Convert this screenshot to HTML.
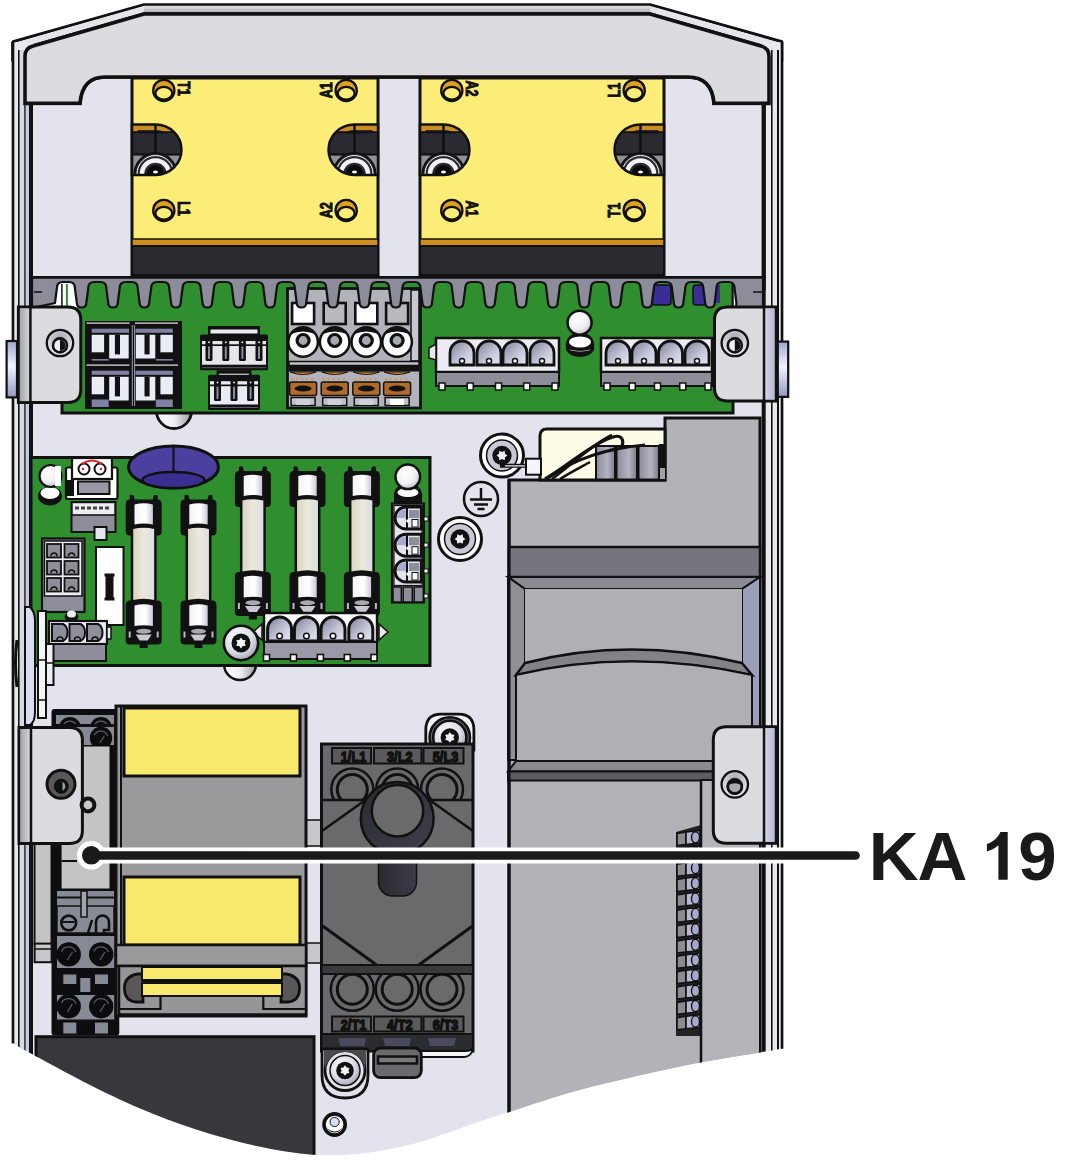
<!DOCTYPE html>
<html><head><meta charset="utf-8"><style>
html,body{margin:0;padding:0;background:#fff;width:1070px;height:1163px;overflow:hidden;font-family:"Liberation Sans",sans-serif;}
svg{display:block;}
</style></head><body>
<svg width="1070" height="1163" viewBox="0 0 1070 1163">
<defs><clipPath id="hc"><path d="M 11.2 1042.6 L 11.2 42 L 144 4 L 650 4 L 783.5 42 L 783.5 1048.5 C 779.5 1049.2, 773.3 1050.1, 759.6 1052.4 C 745.9 1054.7, 723.0 1058.1, 701.3 1062.3 C 679.6 1066.5, 651.4 1072.7, 629.5 1077.8 C 607.6 1082.9, 589.9 1087.1, 569.7 1092.8 C 549.5 1098.5, 523.4 1107.4, 508.4 1112.2 C 493.4 1117.0, 490.1 1118.1, 480.0 1121.5 C 469.9 1124.9, 458.0 1129.3, 448.0 1132.7 C 438.0 1136.1, 429.3 1139.3, 420.0 1142.0 C 410.7 1144.7, 401.3 1146.7, 392.0 1148.6 C 382.7 1150.5, 373.3 1152.2, 364.0 1153.3 C 354.7 1154.4, 346.7 1155.1, 336.0 1155.1 C 325.3 1155.1, 313.9 1155.1, 300.0 1153.4 C 286.1 1151.7, 269.6 1149.0, 252.3 1145.0 C 235.0 1141.0, 214.9 1135.6, 196.2 1129.5 C 177.5 1123.4, 158.9 1116.4, 140.2 1108.5 C 121.5 1100.6, 101.3 1090.6, 84.0 1081.9 C 66.7 1073.2, 48.5 1063.1, 36.4 1056.6 C 24.3 1050.0, 15.4 1044.9, 11.2 1042.6 Z"/></clipPath><linearGradient id="tg" x1="0" y1="0" x2="0" y2="1"><stop offset="0" stop-color="#e8e8ee"/><stop offset="1" stop-color="#a8a8b0"/></linearGradient><radialGradient id="ball" cx="0.4" cy="0.35" r="0.7"><stop offset="0" stop-color="#ffffff"/><stop offset="0.6" stop-color="#f0f0f4"/><stop offset="1" stop-color="#b8b8c4"/></radialGradient><linearGradient id="glass" x1="0" y1="0" x2="1" y2="0"><stop offset="0" stop-color="#d8d4c4"/><stop offset="0.5" stop-color="#ece8da"/><stop offset="1" stop-color="#dcdce4"/></linearGradient><linearGradient id="cap" x1="0" y1="0" x2="1" y2="0"><stop offset="0" stop-color="#f4f4f8"/><stop offset="0.6" stop-color="#ffffff"/><stop offset="1" stop-color="#c8c8d8"/></linearGradient><linearGradient id="stem" x1="0" y1="0" x2="1" y2="0"><stop offset="0" stop-color="#2a2a2e"/><stop offset="1" stop-color="#3c3c4a"/></linearGradient><linearGradient id="brL" x1="0" y1="0" x2="1" y2="0"><stop offset="0" stop-color="#a4a4ac"/><stop offset="1" stop-color="#d8d8de"/></linearGradient><linearGradient id="brR" x1="0" y1="0" x2="1" y2="0"><stop offset="0" stop-color="#d4d4e6"/><stop offset="1" stop-color="#b8b8d8"/></linearGradient><linearGradient id="tab" x1="0" y1="0" x2="0" y2="1"><stop offset="0" stop-color="#a0a8d0"/><stop offset="0.45" stop-color="#f0f4ff"/><stop offset="1" stop-color="#9098c0"/></linearGradient><radialGradient id="hr" cx="0.5" cy="0.3" r="0.6"><stop offset="0" stop-color="#a8a8b0"/><stop offset="1" stop-color="#e4e4ee"/></radialGradient><linearGradient id="knob" x1="0" y1="0" x2="1" y2="1"><stop offset="0" stop-color="#2a2a2e"/><stop offset="1" stop-color="#40404e"/></linearGradient><linearGradient id="dh" x1="0" y1="0" x2="1" y2="1"><stop offset="0" stop-color="#7c7c94"/><stop offset="0.6" stop-color="#c8c8dc"/><stop offset="1" stop-color="#e8e8f0"/></linearGradient><linearGradient id="cyl" x1="0" y1="0" x2="1" y2="0"><stop offset="0" stop-color="#8a8a98"/><stop offset="0.6" stop-color="#b4b4c2"/><stop offset="1" stop-color="#7a7a88"/></linearGradient><linearGradient id="wash" x1="0" y1="0" x2="1" y2="0"><stop offset="0" stop-color="#ffffff"/><stop offset="0.5" stop-color="#f0f0f4"/><stop offset="1" stop-color="#9a9aa4"/></linearGradient><radialGradient id="scr" cx="0.4" cy="0.35" r="0.7"><stop offset="0" stop-color="#ffffff"/><stop offset="0.6" stop-color="#dcdce6"/><stop offset="1" stop-color="#a0a0b4"/></radialGradient></defs>
<g clip-path="url(#hc)">
<rect x="0" y="0" width="800" height="1163" fill="#e3e3ed"/>
<path d="M 12 42 L 144 4 L 650 4 L 783 42 L 783 60 L 12 60 Z" fill="#e4e4ea" stroke="#111" stroke-width="2.8"/>
<rect x="144" y="5" width="506" height="8" fill="url(#tg)"/>
<path d="M 25 103.4 L 25 56 Q 25 48 33 46 L 144 14 L 650 14 L 761 46 Q 769 48 769 56 L 769 103.4 L 714 103.4 Q 712 77 688 77 L 105 77 Q 82 77 80 103.4 Z" fill="#dcdbe0" stroke="#111" stroke-width="3.6"/>
<rect x="12" y="42" width="21" height="1100" fill="#e8e8ee"/>
<rect x="19.6" y="50" width="4.5" height="1090" fill="#d8d8e0"/>
<line x1="18.8" y1="50" x2="18.8" y2="1140" stroke="#111" stroke-width="1.6"/>
<line x1="25" y1="100" x2="25" y2="1140" stroke="#111" stroke-width="1.5"/>
<rect x="25.8" y="100" width="3.2" height="1040" fill="#c6c8e6"/>
<line x1="31" y1="100" x2="31" y2="1140" stroke="#111" stroke-width="4"/>
<rect x="762" y="42" width="22" height="1100" fill="#e8e8ee"/>
<line x1="771.8" y1="50" x2="771.8" y2="1140" stroke="#111" stroke-width="1.6"/>
<line x1="778" y1="50" x2="778" y2="1140" stroke="#111" stroke-width="2"/>
<line x1="763.7" y1="100" x2="763.7" y2="1140" stroke="#111" stroke-width="4"/>
<path d="M 25 103.4 L 25 56 Q 25 48 33 46 L 144 14 L 650 14 L 761 46 Q 769 48 769 56 L 769 103.4 L 714 103.4 Q 712 77 688 77 L 105 77 Q 82 77 80 103.4 Z" fill="#dcdbe0" stroke="#111" stroke-width="3.6"/>
<rect x="33" y="105.3" width="728.5" height="180" fill="#e3e3ed"/>
<line x1="31" y1="105" x2="31" y2="290" stroke="#111" stroke-width="4"/>
<line x1="763.7" y1="105" x2="763.7" y2="290" stroke="#111" stroke-width="4"/>
<rect x="132" y="78" width="246" height="197" fill="#fcec78" stroke="#111" stroke-width="3"/>
<rect x="132" y="239" width="246" height="7" fill="#cc8e1e" stroke="#111" stroke-width="1.5"/>
<rect x="132" y="246" width="246" height="29" fill="#2a2a30" stroke="#111" stroke-width="2"/>
<clipPath id="sl132"><path d="M 132 124.5 L 155.5 124.5 A 26 25.2 0 0 1 155.5 174.9 L 132 174.9 Z"/></clipPath>
<g clip-path="url(#sl132)">
<rect x="132" y="124" width="50" height="52" fill="#2a2a30"/>
<path d="M 132 124.5 L 155.5 124.5 A 26 25.2 0 0 1 155.5 174.9 L 132 174.9 Z" fill="none" stroke="#cc8e1e" stroke-width="11" transform="translate(0,0)"/>
<path d="M 130 132.5 L 183.5 132.5" stroke="#111" stroke-width="2.5"/>
<rect x="132" y="133.5" width="50" height="50" fill="#2a2a30"/>
<line x1="155.5" y1="124" x2="155.5" y2="155" stroke="#111" stroke-width="2.5"/>
<rect x="132" y="154.5" width="50" height="22" fill="#929296" stroke="#111" stroke-width="2.2"/>
<circle cx="155.5" cy="174" r="21" fill="#2a2a30" stroke="#111" stroke-width="2"/>
<circle cx="155.5" cy="174" r="18.5" fill="none" stroke="#ffffff" stroke-width="1"/>
<circle cx="155.5" cy="174" r="13.5" fill="none" stroke="#f4f4f8" stroke-width="4.5"/>
<circle cx="155.5" cy="174" r="9" fill="#0a0a0c"/>
<ellipse cx="155.5" cy="172" rx="2.5" ry="1.5" fill="#fff"/>
</g>
<path d="M 132 124.5 L 155.5 124.5 A 26 25.2 0 0 1 155.5 174.9 L 132 174.9 Z" fill="none" stroke="#111" stroke-width="2.5"/>
<clipPath id="sl328"><path d="M 378 124.5 L 354.5 124.5 A 26 25.2 0 0 0 354.5 174.9 L 378 174.9 Z"/></clipPath>
<g clip-path="url(#sl328)">
<rect x="328.5" y="124" width="50" height="52" fill="#2a2a30"/>
<path d="M 378 124.5 L 354.5 124.5 A 26 25.2 0 0 0 354.5 174.9 L 378 174.9 Z" fill="none" stroke="#cc8e1e" stroke-width="11" transform="translate(0,0)"/>
<path d="M 326.5 132.5 L 380 132.5" stroke="#111" stroke-width="2.5"/>
<rect x="328.5" y="133.5" width="50" height="50" fill="#2a2a30"/>
<line x1="354.5" y1="124" x2="354.5" y2="155" stroke="#111" stroke-width="2.5"/>
<rect x="328.5" y="154.5" width="50" height="22" fill="#929296" stroke="#111" stroke-width="2.2"/>
<circle cx="354.5" cy="174" r="21" fill="#2a2a30" stroke="#111" stroke-width="2"/>
<circle cx="354.5" cy="174" r="18.5" fill="none" stroke="#ffffff" stroke-width="1"/>
<circle cx="354.5" cy="174" r="13.5" fill="none" stroke="#f4f4f8" stroke-width="4.5"/>
<circle cx="354.5" cy="174" r="9" fill="#0a0a0c"/>
<ellipse cx="354.5" cy="172" rx="2.5" ry="1.5" fill="#fff"/>
</g>
<path d="M 378 124.5 L 354.5 124.5 A 26 25.2 0 0 0 354.5 174.9 L 378 174.9 Z" fill="none" stroke="#111" stroke-width="2.5"/>
<rect x="420" y="78" width="244" height="197" fill="#fcec78" stroke="#111" stroke-width="3"/>
<rect x="420" y="239" width="244" height="7" fill="#cc8e1e" stroke="#111" stroke-width="1.5"/>
<rect x="420" y="246" width="244" height="29" fill="#2a2a30" stroke="#111" stroke-width="2"/>
<clipPath id="sl420"><path d="M 420 124.5 L 443.5 124.5 A 26 25.2 0 0 1 443.5 174.9 L 420 174.9 Z"/></clipPath>
<g clip-path="url(#sl420)">
<rect x="420" y="124" width="50" height="52" fill="#2a2a30"/>
<path d="M 420 124.5 L 443.5 124.5 A 26 25.2 0 0 1 443.5 174.9 L 420 174.9 Z" fill="none" stroke="#cc8e1e" stroke-width="11" transform="translate(0,0)"/>
<path d="M 418 132.5 L 471.5 132.5" stroke="#111" stroke-width="2.5"/>
<rect x="420" y="133.5" width="50" height="50" fill="#2a2a30"/>
<line x1="443.5" y1="124" x2="443.5" y2="155" stroke="#111" stroke-width="2.5"/>
<rect x="420" y="154.5" width="50" height="22" fill="#929296" stroke="#111" stroke-width="2.2"/>
<circle cx="443.5" cy="174" r="21" fill="#2a2a30" stroke="#111" stroke-width="2"/>
<circle cx="443.5" cy="174" r="18.5" fill="none" stroke="#ffffff" stroke-width="1"/>
<circle cx="443.5" cy="174" r="13.5" fill="none" stroke="#f4f4f8" stroke-width="4.5"/>
<circle cx="443.5" cy="174" r="9" fill="#0a0a0c"/>
<ellipse cx="443.5" cy="172" rx="2.5" ry="1.5" fill="#fff"/>
</g>
<path d="M 420 124.5 L 443.5 124.5 A 26 25.2 0 0 1 443.5 174.9 L 420 174.9 Z" fill="none" stroke="#111" stroke-width="2.5"/>
<clipPath id="sl614"><path d="M 664 124.5 L 640.5 124.5 A 26 25.2 0 0 0 640.5 174.9 L 664 174.9 Z"/></clipPath>
<g clip-path="url(#sl614)">
<rect x="614.5" y="124" width="50" height="52" fill="#2a2a30"/>
<path d="M 664 124.5 L 640.5 124.5 A 26 25.2 0 0 0 640.5 174.9 L 664 174.9 Z" fill="none" stroke="#cc8e1e" stroke-width="11" transform="translate(0,0)"/>
<path d="M 612.5 132.5 L 666 132.5" stroke="#111" stroke-width="2.5"/>
<rect x="614.5" y="133.5" width="50" height="50" fill="#2a2a30"/>
<line x1="640.5" y1="124" x2="640.5" y2="155" stroke="#111" stroke-width="2.5"/>
<rect x="614.5" y="154.5" width="50" height="22" fill="#929296" stroke="#111" stroke-width="2.2"/>
<circle cx="640.5" cy="174" r="21" fill="#2a2a30" stroke="#111" stroke-width="2"/>
<circle cx="640.5" cy="174" r="18.5" fill="none" stroke="#ffffff" stroke-width="1"/>
<circle cx="640.5" cy="174" r="13.5" fill="none" stroke="#f4f4f8" stroke-width="4.5"/>
<circle cx="640.5" cy="174" r="9" fill="#0a0a0c"/>
<ellipse cx="640.5" cy="172" rx="2.5" ry="1.5" fill="#fff"/>
</g>
<path d="M 664 124.5 L 640.5 124.5 A 26 25.2 0 0 0 640.5 174.9 L 664 174.9 Z" fill="none" stroke="#111" stroke-width="2.5"/>
<circle cx="163.8" cy="90.4" r="10.6" fill="#e0a020" stroke="#111" stroke-width="2.3"/>
<ellipse cx="163.8" cy="93.2" rx="8.4" ry="6.3" fill="#fcec78" stroke="#111" stroke-width="2.2"/>
<circle cx="163.8" cy="210.4" r="10.6" fill="#e0a020" stroke="#111" stroke-width="2.3"/>
<ellipse cx="163.8" cy="213.20000000000002" rx="8.4" ry="6.3" fill="#fcec78" stroke="#111" stroke-width="2.2"/>
<circle cx="346.2" cy="90.4" r="10.6" fill="#e0a020" stroke="#111" stroke-width="2.3"/>
<ellipse cx="346.2" cy="93.2" rx="8.4" ry="6.3" fill="#fcec78" stroke="#111" stroke-width="2.2"/>
<circle cx="346.2" cy="210.4" r="10.6" fill="#e0a020" stroke="#111" stroke-width="2.3"/>
<ellipse cx="346.2" cy="213.20000000000002" rx="8.4" ry="6.3" fill="#fcec78" stroke="#111" stroke-width="2.2"/>
<circle cx="451.8" cy="90.4" r="10.6" fill="#e0a020" stroke="#111" stroke-width="2.3"/>
<ellipse cx="451.8" cy="93.2" rx="8.4" ry="6.3" fill="#fcec78" stroke="#111" stroke-width="2.2"/>
<circle cx="451.8" cy="210.4" r="10.6" fill="#e0a020" stroke="#111" stroke-width="2.3"/>
<ellipse cx="451.8" cy="213.20000000000002" rx="8.4" ry="6.3" fill="#fcec78" stroke="#111" stroke-width="2.2"/>
<circle cx="634.2" cy="90.4" r="10.6" fill="#e0a020" stroke="#111" stroke-width="2.3"/>
<ellipse cx="634.2" cy="93.2" rx="8.4" ry="6.3" fill="#fcec78" stroke="#111" stroke-width="2.2"/>
<circle cx="634.2" cy="210.4" r="10.6" fill="#e0a020" stroke="#111" stroke-width="2.3"/>
<ellipse cx="634.2" cy="213.20000000000002" rx="8.4" ry="6.3" fill="#fcec78" stroke="#111" stroke-width="2.2"/>
<text transform="translate(177.8 88.5) rotate(90) scale(0.74 1)" x="0" y="0" font-family="Liberation Sans" font-weight="bold" font-size="17" fill="#111" stroke="#111" stroke-width="1" text-anchor="middle">T1</text>
<text transform="translate(332.4 90.2) rotate(-90) scale(0.74 1)" x="0" y="0" font-family="Liberation Sans" font-weight="bold" font-size="17" fill="#111" stroke="#111" stroke-width="1" text-anchor="middle">A1</text>
<text transform="translate(177.8 208.5) rotate(90) scale(0.74 1)" x="0" y="0" font-family="Liberation Sans" font-weight="bold" font-size="17" fill="#111" stroke="#111" stroke-width="1" text-anchor="middle">L1</text>
<text transform="translate(332.4 210.2) rotate(-90) scale(0.74 1)" x="0" y="0" font-family="Liberation Sans" font-weight="bold" font-size="17" fill="#111" stroke="#111" stroke-width="1" text-anchor="middle">A2</text>
<text transform="translate(465.8 88.5) rotate(90) scale(0.74 1)" x="0" y="0" font-family="Liberation Sans" font-weight="bold" font-size="17" fill="#111" stroke="#111" stroke-width="1" text-anchor="middle">A2</text>
<text transform="translate(620.4 90.2) rotate(-90) scale(0.74 1)" x="0" y="0" font-family="Liberation Sans" font-weight="bold" font-size="17" fill="#111" stroke="#111" stroke-width="1" text-anchor="middle">L1</text>
<text transform="translate(465.8 208.5) rotate(90) scale(0.74 1)" x="0" y="0" font-family="Liberation Sans" font-weight="bold" font-size="17" fill="#111" stroke="#111" stroke-width="1" text-anchor="middle">A1</text>
<text transform="translate(620.4 210.2) rotate(-90) scale(0.74 1)" x="0" y="0" font-family="Liberation Sans" font-weight="bold" font-size="17" fill="#111" stroke="#111" stroke-width="1" text-anchor="middle">T1</text>
<circle cx="174" cy="411" r="17.5" fill="url(#wash)" stroke="#111" stroke-width="2.8"/>
<rect x="62" y="280" width="671" height="133" fill="#2f8f2f" stroke="#111" stroke-width="3"/>
<rect x="54.9" y="280" width="22" height="29" fill="#ffffff"/>
<line x1="61.9" y1="284" x2="61.9" y2="309" stroke="#111" stroke-width="1.5"/>
<line x1="66.9" y1="284" x2="66.9" y2="309" stroke="#2f8f2f" stroke-width="2"/>
<rect x="733" y="282" width="5" height="27" fill="#ffffff" stroke="#111" stroke-width="1.5"/>
<rect x="652" y="285" width="19" height="20" rx="3" fill="#3a2e96" stroke="#111" stroke-width="1.5"/>
<rect x="693" y="285" width="14" height="20" rx="3" fill="#3a2e96" stroke="#111" stroke-width="1.5"/>
<rect x="716" y="285" width="4" height="18" fill="#3a2e96"/>
<rect x="287.5" y="288.5" width="133" height="119.5" fill="#b2b2ba" stroke="#111" stroke-width="2.8"/>
<rect x="411" y="290" width="8" height="71" fill="#c8c8d0" stroke="#111" stroke-width="1.5"/>
<rect x="292.1" y="303" width="22" height="21" fill="#ffffff" stroke="#111" stroke-width="2.6"/>
<rect x="323.7" y="303" width="22" height="21" fill="#b8b8c0" stroke="#111" stroke-width="2.6"/>
<rect x="355.3" y="303" width="22" height="21" fill="#ffffff" stroke="#111" stroke-width="2.6"/>
<rect x="386.1" y="303" width="22" height="21" fill="#b8b8c0" stroke="#111" stroke-width="2.6"/>
<circle cx="303.1" cy="342" r="14.8" fill="#ffffff" stroke="#111" stroke-width="2.5"/>
<path d="M 291.1 334 A 14 14 0 0 1 315.1 334 Q 303.1 329 291.1 334 Z" fill="#111"/>
<circle cx="303.1" cy="340.5" r="6" fill="#a8a8b0" stroke="#111" stroke-width="3.2"/>
<circle cx="334.7" cy="342" r="14.8" fill="#ffffff" stroke="#111" stroke-width="2.5"/>
<path d="M 322.7 334 A 14 14 0 0 1 346.7 334 Q 334.7 329 322.7 334 Z" fill="#111"/>
<circle cx="334.7" cy="340.5" r="6" fill="#a8a8b0" stroke="#111" stroke-width="3.2"/>
<circle cx="366.3" cy="342" r="14.8" fill="#ffffff" stroke="#111" stroke-width="2.5"/>
<path d="M 354.3 334 A 14 14 0 0 1 378.3 334 Q 366.3 329 354.3 334 Z" fill="#111"/>
<circle cx="366.3" cy="340.5" r="6" fill="#a8a8b0" stroke="#111" stroke-width="3.2"/>
<circle cx="397.1" cy="342" r="14.8" fill="#ffffff" stroke="#111" stroke-width="2.5"/>
<path d="M 385.1 334 A 14 14 0 0 1 409.1 334 Q 397.1 329 385.1 334 Z" fill="#111"/>
<circle cx="397.1" cy="340.5" r="6" fill="#a8a8b0" stroke="#111" stroke-width="3.2"/>
<rect x="289" y="361.5" width="130" height="4" fill="#c0c0c8" stroke="#111" stroke-width="1.5"/>
<rect x="289" y="365.5" width="130" height="6" fill="#111"/>
<path d="M 290.1 372 Q 303.1 377 316.1 372 Z" fill="#e08a30" stroke="#111" stroke-width="1"/>
<line x1="291.1" y1="379" x2="315.1" y2="379" stroke="#e08a30" stroke-width="1.5" stroke-dasharray="2 3"/>
<rect x="289.6" y="382" width="27" height="13.5" rx="2" fill="#b06a2a" stroke="#111" stroke-width="1.5"/>
<ellipse cx="303.1" cy="388.5" rx="8.5" ry="3" fill="#111"/>
<rect x="291.1" y="397.5" width="24" height="8" fill="#c0c0c8" stroke="#111" stroke-width="1.5"/>
<rect x="296.1" y="399" width="14" height="6" fill="#d0d0d8"/>
<path d="M 321.7 372 Q 334.7 377 347.7 372 Z" fill="#e08a30" stroke="#111" stroke-width="1"/>
<line x1="322.7" y1="379" x2="346.7" y2="379" stroke="#e08a30" stroke-width="1.5" stroke-dasharray="2 3"/>
<rect x="321.2" y="382" width="27" height="13.5" rx="2" fill="#b06a2a" stroke="#111" stroke-width="1.5"/>
<ellipse cx="334.7" cy="388.5" rx="8.5" ry="3" fill="#111"/>
<rect x="322.7" y="397.5" width="24" height="8" fill="#c0c0c8" stroke="#111" stroke-width="1.5"/>
<rect x="327.7" y="399" width="14" height="6" fill="#d0d0d8"/>
<path d="M 353.3 372 Q 366.3 377 379.3 372 Z" fill="#e08a30" stroke="#111" stroke-width="1"/>
<line x1="354.3" y1="379" x2="378.3" y2="379" stroke="#e08a30" stroke-width="1.5" stroke-dasharray="2 3"/>
<rect x="352.8" y="382" width="27" height="13.5" rx="2" fill="#b06a2a" stroke="#111" stroke-width="1.5"/>
<ellipse cx="366.3" cy="388.5" rx="8.5" ry="3" fill="#111"/>
<rect x="354.3" y="397.5" width="24" height="8" fill="#c0c0c8" stroke="#111" stroke-width="1.5"/>
<rect x="359.3" y="399" width="14" height="6" fill="#d0d0d8"/>
<path d="M 384.1 372 Q 397.1 377 410.1 372 Z" fill="#e08a30" stroke="#111" stroke-width="1"/>
<line x1="385.1" y1="379" x2="409.1" y2="379" stroke="#e08a30" stroke-width="1.5" stroke-dasharray="2 3"/>
<rect x="383.6" y="382" width="27" height="13.5" rx="2" fill="#b06a2a" stroke="#111" stroke-width="1.5"/>
<ellipse cx="397.1" cy="388.5" rx="8.5" ry="3" fill="#111"/>
<rect x="385.1" y="397.5" width="24" height="8" fill="#c0c0c8" stroke="#111" stroke-width="1.5"/>
<rect x="390.1" y="399" width="14" height="6" fill="#ffffff"/>
<path d="M 32 308 L 55.0 303 L 56.9 288 Q 56.9 282 62.9 282 L 68.9 282 Q 74.9 282 74.9 288 L 76.8 303 L 76.8 302.5 Q 76.8 307.5 81.6 307.5 Q 86.4 307.5 86.4 302.5 L 88.3 288 Q 88.3 282 94.3 282 L 100.3 282 Q 106.3 282 106.3 288 L 108.2 303 L 108.2 302.5 Q 108.2 307.5 113.0 307.5 Q 117.8 307.5 117.8 302.5 L 119.7 288 Q 119.7 282 125.7 282 L 131.7 282 Q 137.7 282 137.7 288 L 139.6 303 L 139.6 302.5 Q 139.6 307.5 144.4 307.5 Q 149.2 307.5 149.2 302.5 L 151.2 288 Q 151.2 282 157.2 282 L 163.2 282 Q 169.2 282 169.2 288 L 171.1 303 L 171.1 302.5 Q 171.1 307.5 175.9 307.5 Q 180.7 307.5 180.7 302.5 L 182.6 288 Q 182.6 282 188.6 282 L 194.6 282 Q 200.6 282 200.6 288 L 202.5 303 L 202.5 302.5 Q 202.5 307.5 207.3 307.5 Q 212.1 307.5 212.1 302.5 L 214.0 288 Q 214.0 282 220.0 282 L 226.0 282 Q 232.0 282 232.0 288 L 233.9 303 L 233.9 302.5 Q 233.9 307.5 238.7 307.5 Q 243.5 307.5 243.5 302.5 L 245.4 288 Q 245.4 282 251.4 282 L 257.4 282 Q 263.4 282 263.4 288 L 265.3 303 L 265.3 302.5 Q 265.3 307.5 270.1 307.5 Q 274.9 307.5 274.9 302.5 L 276.8 288 Q 276.8 282 282.8 282 L 288.8 282 Q 294.8 282 294.8 288 L 296.7 303 L 296.7 302.5 Q 296.7 307.5 301.5 307.5 Q 306.3 307.5 306.3 302.5 L 308.2 288 Q 308.2 282 314.2 282 L 320.2 282 Q 326.2 282 326.2 288 L 328.1 303 L 328.2 302.5 Q 328.2 307.5 333.0 307.5 Q 337.8 307.5 337.8 302.5 L 339.7 288 Q 339.7 282 345.7 282 L 351.7 282 Q 357.7 282 357.7 288 L 359.6 303 L 359.6 302.5 Q 359.6 307.5 364.4 307.5 Q 369.2 307.5 369.2 302.5 L 371.1 288 Q 371.1 282 377.1 282 L 383.1 282 Q 389.1 282 389.1 288 L 391.0 303 L 391.0 302.5 Q 391.0 307.5 395.8 307.5 Q 400.6 307.5 400.6 302.5 L 402.5 288 Q 402.5 282 408.5 282 L 414.5 282 Q 420.5 282 420.5 288 L 422.4 303 L 422.4 302.5 Q 422.4 307.5 427.2 307.5 Q 432.0 307.5 432.0 302.5 L 433.9 288 Q 433.9 282 439.9 282 L 445.9 282 Q 451.9 282 451.9 288 L 453.8 303 L 453.8 302.5 Q 453.8 307.5 458.6 307.5 Q 463.4 307.5 463.4 302.5 L 465.3 288 Q 465.3 282 471.3 282 L 477.3 282 Q 483.3 282 483.3 288 L 485.2 303 L 485.3 302.5 Q 485.3 307.5 490.1 307.5 Q 494.9 307.5 494.9 302.5 L 496.8 288 Q 496.8 282 502.8 282 L 508.8 282 Q 514.8 282 514.8 288 L 516.7 303 L 516.7 302.5 Q 516.7 307.5 521.5 307.5 Q 526.3 307.5 526.3 302.5 L 528.2 288 Q 528.2 282 534.2 282 L 540.2 282 Q 546.2 282 546.2 288 L 548.1 303 L 548.1 302.5 Q 548.1 307.5 552.9 307.5 Q 557.7 307.5 557.7 302.5 L 559.6 288 Q 559.6 282 565.6 282 L 571.6 282 Q 577.6 282 577.6 288 L 579.5 303 L 579.5 302.5 Q 579.5 307.5 584.3 307.5 Q 589.1 307.5 589.1 302.5 L 591.0 288 Q 591.0 282 597.0 282 L 603.0 282 Q 609.0 282 609.0 288 L 610.9 303 L 610.9 302.5 Q 610.9 307.5 615.7 307.5 Q 620.5 307.5 620.5 302.5 L 622.5 288 Q 622.5 282 628.5 282 L 634.5 282 Q 640.5 282 640.5 288 L 642.4 303 L 642.4 302.5 Q 642.4 307.5 647.2 307.5 Q 652.0 307.5 652.0 302.5 L 653.9 288 Q 653.9 282 659.9 282 L 665.9 282 Q 671.9 282 671.9 288 L 673.8 303 L 673.8 302.5 Q 673.8 307.5 678.6 307.5 Q 683.4 307.5 683.4 302.5 L 685.3 288 Q 685.3 282 691.3 282 L 697.3 282 Q 703.3 282 703.3 288 L 705.2 303 L 705.2 302.5 Q 705.2 307.5 710.0 307.5 Q 714.8 307.5 714.8 302.5 L 716.5 288 Q 716.5 282 722.5 282 L 728.5 282 Q 734.5 282 734.5 288 L 736.4 303 L 736 308 L 763 308 L 763 277 L 32 277 Z" fill="#8d8c9a" stroke="#111" stroke-width="2.2" stroke-linejoin="round"/>
<line x1="32" y1="277.5" x2="763" y2="277.5" stroke="#111" stroke-width="2.5"/>
<line x1="34" y1="292" x2="42" y2="292" stroke="#111" stroke-width="1.5"/>
<line x1="753" y1="292" x2="762" y2="292" stroke="#111" stroke-width="1.5"/>
<path d="M 18.4 307 L 67.8 307 Q 80.8 307 80.8 320 L 80.8 389.6 Q 80.8 402.6 67.8 402.6 L 18.4 402.6 Z" fill="#dcdbe0" stroke="#111" stroke-width="3"/>
<rect x="19.9" y="308.5" width="10" height="92.60000000000002" fill="url(#brL)"/>
<line x1="30.4" y1="307" x2="30.4" y2="402.6" stroke="#111" stroke-width="2.5"/>
<circle cx="60" cy="343" r="13.2" fill="url(#hr)" stroke="#111" stroke-width="2.3"/>
<circle cx="60" cy="345.4" r="7" fill="#f0f0f4" stroke="#111" stroke-width="2.6"/>
<path d="M 60 339.8 A 5.6 5.6 0 0 1 60 351 Z" fill="#111"/>
<path d="M 776 307 L 727.5 307 Q 714.5 307 714.5 320 L 714.5 388 Q 714.5 401 727.5 401 L 776 401 Z" fill="#dcdbe0" stroke="#111" stroke-width="3"/>
<rect x="764.5" y="308.5" width="10" height="91" fill="url(#brR)"/>
<line x1="764" y1="307" x2="764" y2="401" stroke="#111" stroke-width="2.5"/>
<circle cx="734.8" cy="343" r="13.2" fill="url(#hr)" stroke="#111" stroke-width="2.3"/>
<circle cx="734.8" cy="345.4" r="7" fill="#f0f0f4" stroke="#111" stroke-width="2.6"/>
<path d="M 734.8 339.8 A 5.6 5.6 0 0 1 734.8 351 Z" fill="#111"/>
<rect x="85" y="321" width="97" height="88" fill="#111"/>
<rect x="91.7" y="328.7" width="37.3" height="4.1" fill="#7e80a4"/>
<rect x="91.7" y="334.8" width="12.4" height="17.5" fill="#eaecf6"/>
<rect x="109.2" y="334.8" width="19.5" height="23.7" fill="#eaecf6"/>
<rect x="114.9" y="334.8" width="5.1" height="19.6" fill="#111"/>
<rect x="91.7" y="359.0" width="17.0" height="1.6" fill="#7e80a4"/>
<rect x="86.5" y="322.5" width="43.0" height="1.2" fill="#e8e8f0"/>
<rect x="135.5" y="328.7" width="37.3" height="4.1" fill="#7e80a4"/>
<rect x="160.4" y="334.8" width="12.4" height="17.5" fill="#eaecf6"/>
<rect x="135.8" y="334.8" width="19.5" height="23.7" fill="#eaecf6"/>
<rect x="144.5" y="334.8" width="5.1" height="19.6" fill="#111"/>
<rect x="155.8" y="359.0" width="17.0" height="1.6" fill="#7e80a4"/>
<rect x="135.0" y="322.5" width="43.0" height="1.2" fill="#e8e8f0"/>
<rect x="91.7" y="370.7" width="37.3" height="4.1" fill="#7e80a4"/>
<rect x="91.7" y="376.8" width="12.4" height="17.5" fill="#eaecf6"/>
<rect x="109.2" y="376.8" width="19.5" height="23.7" fill="#eaecf6"/>
<rect x="114.9" y="376.8" width="5.1" height="19.6" fill="#111"/>
<rect x="91.7" y="399.5" width="17.0" height="7.5" fill="#7e80a4"/>
<rect x="86.5" y="364.5" width="43.0" height="1.2" fill="#e8e8f0"/>
<rect x="135.5" y="370.7" width="37.3" height="4.1" fill="#7e80a4"/>
<rect x="160.4" y="376.8" width="12.4" height="17.5" fill="#eaecf6"/>
<rect x="135.8" y="376.8" width="19.5" height="23.7" fill="#eaecf6"/>
<rect x="144.5" y="376.8" width="5.1" height="19.6" fill="#111"/>
<rect x="155.8" y="399.5" width="17.0" height="7.5" fill="#7e80a4"/>
<rect x="135.0" y="364.5" width="43.0" height="1.2" fill="#e8e8f0"/>
<line x1="132.3" y1="325" x2="132.3" y2="406" stroke="#9a9ab0" stroke-width="1"/>
<line x1="134.6" y1="325" x2="134.6" y2="406" stroke="#9a9ab0" stroke-width="1"/>
<rect x="208" y="326" width="52" height="9.5" fill="#111"/>
<rect x="210.5" y="329.5" width="47" height="4" fill="#ececf0"/>
<rect x="200" y="334.5" width="68" height="35.69999999999999" rx="1.5" fill="#111"/>
<rect x="202" y="341.0" width="64" height="3.3" fill="#e6e6ea"/>
<rect x="202" y="346.0" width="64" height="18.69999999999999" fill="#e6e6ea"/>
<line x1="202" y1="367.7" x2="266" y2="367.7" stroke="#5a5a68" stroke-width="1"/>
<rect x="205.5" y="339.5" width="7" height="21.4" rx="1.5" fill="#111"/>
<rect x="208" y="346.5" width="2" height="12.4" fill="#8a8aa0"/>
<rect x="208.2" y="341.5" width="1.6" height="1.6" fill="#fff"/>
<rect x="222.3" y="339.5" width="7" height="21.4" rx="1.5" fill="#111"/>
<rect x="224.8" y="346.5" width="2" height="12.4" fill="#8a8aa0"/>
<rect x="225.0" y="341.5" width="1.6" height="1.6" fill="#fff"/>
<rect x="238.9" y="339.5" width="7" height="21.4" rx="1.5" fill="#111"/>
<rect x="241.4" y="346.5" width="2" height="12.4" fill="#8a8aa0"/>
<rect x="241.6" y="341.5" width="1.6" height="1.6" fill="#fff"/>
<rect x="255.5" y="339.5" width="7" height="21.4" rx="1.5" fill="#111"/>
<rect x="258" y="346.5" width="2" height="12.4" fill="#8a8aa0"/>
<rect x="258.2" y="341.5" width="1.6" height="1.6" fill="#fff"/>
<rect x="216.6" y="370.2" width="34.80000000000001" height="5.5" fill="#111"/>
<rect x="219.1" y="373.7" width="29.80000000000001" height="4" fill="#ececf0"/>
<rect x="208" y="374.7" width="52" height="35.30000000000001" rx="1.5" fill="#111"/>
<rect x="210" y="381.2" width="48" height="3.3" fill="#e8eaf4"/>
<rect x="210" y="386.2" width="48" height="18.30000000000001" fill="#e8eaf4"/>
<line x1="210" y1="407.5" x2="258" y2="407.5" stroke="#5a5a68" stroke-width="1"/>
<rect x="214.0" y="379.7" width="7" height="21.2" rx="1.5" fill="#111"/>
<rect x="216.5" y="386.7" width="2" height="12.2" fill="#8a8aa0"/>
<rect x="216.7" y="381.7" width="1.6" height="1.6" fill="#fff"/>
<rect x="230.5" y="379.7" width="7" height="21.2" rx="1.5" fill="#111"/>
<rect x="233" y="386.7" width="2" height="12.2" fill="#8a8aa0"/>
<rect x="233.2" y="381.7" width="1.6" height="1.6" fill="#fff"/>
<rect x="247.1" y="379.7" width="7" height="21.2" rx="1.5" fill="#111"/>
<rect x="249.6" y="386.7" width="2" height="12.2" fill="#8a8aa0"/>
<rect x="249.79999999999998" y="381.7" width="1.6" height="1.6" fill="#fff"/>
<rect x="436" y="338" width="123" height="34" fill="#ececf2" stroke="#111" stroke-width="2.5"/>
<rect x="436" y="372" width="123" height="14" fill="#8e8e9a" stroke="#111" stroke-width="2"/>
<path d="M 450 365 L 450 353 A 12 12 0 0 1 474 353 L 474 365 Z" fill="url(#dh)" stroke="#111" stroke-width="2.8"/>
<circle cx="462" cy="361" r="2.5" fill="#fff" stroke="#111" stroke-width="1.5"/>
<path d="M 477 365 L 477 353 A 12 12 0 0 1 501 353 L 501 365 Z" fill="url(#dh)" stroke="#111" stroke-width="2.8"/>
<circle cx="489" cy="361" r="2.5" fill="#fff" stroke="#111" stroke-width="1.5"/>
<path d="M 503 365 L 503 353 A 12 12 0 0 1 527 353 L 527 365 Z" fill="url(#dh)" stroke="#111" stroke-width="2.8"/>
<circle cx="515" cy="361" r="2.5" fill="#fff" stroke="#111" stroke-width="1.5"/>
<path d="M 530 365 L 530 353 A 12 12 0 0 1 554 353 L 554 365 Z" fill="url(#dh)" stroke="#111" stroke-width="2.8"/>
<circle cx="542" cy="361" r="2.5" fill="#fff" stroke="#111" stroke-width="1.5"/>
<rect x="439.0" y="383" width="6" height="7" fill="#fff" stroke="#111" stroke-width="1.5"/>
<rect x="467.25" y="383" width="6" height="7" fill="#fff" stroke="#111" stroke-width="1.5"/>
<rect x="495.5" y="383" width="6" height="7" fill="#fff" stroke="#111" stroke-width="1.5"/>
<rect x="523.75" y="383" width="6" height="7" fill="#fff" stroke="#111" stroke-width="1.5"/>
<rect x="552.0" y="383" width="6" height="7" fill="#fff" stroke="#111" stroke-width="1.5"/>
<rect x="601" y="338" width="111" height="34" fill="#ececf2" stroke="#111" stroke-width="2.5"/>
<rect x="601" y="372" width="111" height="14" fill="#8e8e9a" stroke="#111" stroke-width="2"/>
<path d="M 606 365 L 606 353 A 12 12 0 0 1 630 353 L 630 365 Z" fill="url(#dh)" stroke="#111" stroke-width="2.8"/>
<circle cx="618" cy="361" r="2.5" fill="#fff" stroke="#111" stroke-width="1.5"/>
<path d="M 632 365 L 632 353 A 12 12 0 0 1 656 353 L 656 365 Z" fill="url(#dh)" stroke="#111" stroke-width="2.8"/>
<circle cx="644" cy="361" r="2.5" fill="#fff" stroke="#111" stroke-width="1.5"/>
<path d="M 658.5 365 L 658.5 353 A 12 12 0 0 1 682.5 353 L 682.5 365 Z" fill="url(#dh)" stroke="#111" stroke-width="2.8"/>
<circle cx="670.5" cy="361" r="2.5" fill="#fff" stroke="#111" stroke-width="1.5"/>
<path d="M 685 365 L 685 353 A 12 12 0 0 1 709 353 L 709 365 Z" fill="url(#dh)" stroke="#111" stroke-width="2.8"/>
<circle cx="697" cy="361" r="2.5" fill="#fff" stroke="#111" stroke-width="1.5"/>
<rect x="604.0" y="383" width="6" height="7" fill="#fff" stroke="#111" stroke-width="1.5"/>
<rect x="629.25" y="383" width="6" height="7" fill="#fff" stroke="#111" stroke-width="1.5"/>
<rect x="654.5" y="383" width="6" height="7" fill="#fff" stroke="#111" stroke-width="1.5"/>
<rect x="679.75" y="383" width="6" height="7" fill="#fff" stroke="#111" stroke-width="1.5"/>
<rect x="705.0" y="383" width="6" height="7" fill="#fff" stroke="#111" stroke-width="1.5"/>
<path d="M 429 348 L 436 344 L 436 360 L 429 358 Z" fill="#e8e8ee" stroke="#111" stroke-width="1.5"/>
<path d="M 566 350 Q 564 333 580 333 Q 596 333 594 350 Q 590 357 580 357 Q 570 357 566 350 Z" fill="#111"/>
<ellipse cx="580" cy="342" rx="11" ry="5.5" fill="#ffffff"/>
<path d="M 570 350 Q 580 353 590 350" fill="none" stroke="#8a8a90" stroke-width="1"/>
<circle cx="579.6" cy="322.7" r="12" fill="url(#ball)" stroke="#111" stroke-width="2.5"/>
<circle cx="502" cy="455.5" r="21.5" fill="#ffffff" stroke="#111" stroke-width="3"/>
<circle cx="502" cy="455.5" r="15.479999999999999" fill="#c9c9d6" stroke="#111" stroke-width="1.5"/>
<circle cx="502" cy="455.5" r="9.675" fill="#111"/>
<polygon points="507.4,455.5 505.0,457.2 504.7,460.2 502.0,458.9 499.3,460.2 499.0,457.2 496.6,455.5 499.0,453.8 499.3,450.8 502.0,452.1 504.7,450.8 505.0,453.8" fill="#f0f0f4"/>
<circle cx="460" cy="539" r="21.5" fill="#ffffff" stroke="#111" stroke-width="3"/>
<circle cx="460" cy="539" r="15.479999999999999" fill="#c9c9d6" stroke="#111" stroke-width="1.5"/>
<circle cx="460" cy="539" r="9.675" fill="#111"/>
<polygon points="465.4,539.0 463.0,540.7 462.7,543.7 460.0,542.4 457.3,543.7 457.0,540.7 454.6,539.0 457.0,537.3 457.3,534.3 460.0,535.6 462.7,534.3 463.0,537.3" fill="#f0f0f4"/>
<circle cx="481" cy="499" r="17" fill="none" stroke="#111" stroke-width="2.5"/>
<line x1="481" y1="488" x2="481" y2="499" stroke="#111" stroke-width="2.5"/>
<line x1="470" y1="499.5" x2="492" y2="499.5" stroke="#111" stroke-width="2.5"/>
<line x1="474" y1="504.5" x2="488" y2="504.5" stroke="#111" stroke-width="2.5"/>
<line x1="477.5" y1="509" x2="484.5" y2="509" stroke="#111" stroke-width="2.5"/>
<path d="M 509 1163 L 509 480 L 665 480 L 665 418 L 760 418 L 760 1163 Z" fill="#b3b2b8" stroke="#111" stroke-width="3"/>
<path d="M 540 480 L 540 436 Q 540 429 547 429 L 665 429 L 665 480 Z" fill="#fefbe6" stroke="#111" stroke-width="3"/>
<rect x="659" y="444" width="7" height="36" fill="#111"/>
<rect x="659" y="468" width="6" height="11" fill="#a0a0a8"/>
<rect x="596" y="446" width="19" height="33.5" fill="url(#cyl)" stroke="#111" stroke-width="2"/>
<rect x="616.5" y="446" width="20.5" height="33.5" fill="url(#cyl)" stroke="#111" stroke-width="2"/>
<rect x="638.5" y="446" width="20.5" height="33.5" fill="url(#cyl)" stroke="#111" stroke-width="2"/>
<path d="M 545 479 C 565 468, 590 445, 610 438 C 622 433, 624 440, 622 446" fill="none" stroke="#111" stroke-width="3.2"/>
<path d="M 552 479 C 575 462, 598 440, 612 435" fill="none" stroke="#111" stroke-width="2.5"/>
<path d="M 548 478 C 575 458, 610 448, 645 445" fill="none" stroke="#111" stroke-width="3.2"/>
<path d="M 560 479 C 575 470, 585 465, 590 462" fill="none" stroke="#111" stroke-width="2.5"/>
<line x1="500" y1="465.8" x2="542" y2="465.8" stroke="#111" stroke-width="4"/>
<line x1="505" y1="465.8" x2="540" y2="465.8" stroke="#f0f0f4" stroke-width="1.2"/>
<rect x="526" y="458.7" width="15" height="16" fill="#f4f4fa" stroke="#111" stroke-width="2"/>
<rect x="509" y="547" width="251" height="30" fill="#76757d" stroke="#111" stroke-width="2.5"/>
<path d="M 508 577 L 760 577 L 742 589 L 525 589 Z" fill="#8c8b93" stroke="#111" stroke-width="2"/>
<path d="M 508 577 L 525 589 L 525 760 L 508 760 Z" fill="#909096" stroke="#111" stroke-width="2"/>
<path d="M 760 577 L 742 589 L 742 760 L 760 760 Z" fill="#9b9db9" stroke="#111" stroke-width="2"/>
<rect x="525" y="589" width="217" height="172" fill="#b0afb5"/>
<path d="M 525 663 Q 630 636 742 663 L 752 675 Q 630 648 516 675 Z" fill="#838289" stroke="#111" stroke-width="2.5"/>
<path d="M 516 675 Q 630 648 752 675 L 752 761 L 516 761 Z" fill="#b0afb5" stroke="#111" stroke-width="2"/>
<path d="M 516 761 L 752 761 L 752 771.5 L 508 771.5 Z" fill="#8a8a90" stroke="#111" stroke-width="2"/>
<rect x="508" y="771.5" width="250" height="9" fill="#5c5c66" stroke="#111" stroke-width="2"/>
<line x1="509" y1="480" x2="509" y2="1163" stroke="#111" stroke-width="3"/>
<rect x="701" y="780" width="59" height="383" fill="#b5b4ba" stroke="#111" stroke-width="2"/>
<path d="M 676 832 L 701 825 L 701 1036 L 676 1036 Z" fill="#222" />
<path d="M 677 833.5 L 686 832.0 L 686 844.5 L 677 845.5 Z" fill="#8c8c90" stroke="#111" stroke-width="1.6"/>
<path d="M 686 832.0 L 700 830.5 L 700 843.0 L 686 844.5 Z" fill="#b4b6d4" stroke="#111" stroke-width="1.6"/>
<ellipse cx="695.5" cy="837.3" rx="4" ry="5.6" fill="#a6a8cc" stroke="#111" stroke-width="1.4"/>
<path d="M 677 848.9 L 686 847.4 L 686 859.9 L 677 860.9 Z" fill="#8c8c90" stroke="#111" stroke-width="1.6"/>
<path d="M 686 847.4 L 700 845.9 L 700 858.4 L 686 859.9 Z" fill="#b4b6d4" stroke="#111" stroke-width="1.6"/>
<ellipse cx="695.5" cy="852.6" rx="4" ry="5.6" fill="#a6a8cc" stroke="#111" stroke-width="1.4"/>
<path d="M 677 864.2 L 686 862.7 L 686 875.2 L 677 876.2 Z" fill="#8c8c90" stroke="#111" stroke-width="1.6"/>
<path d="M 686 862.7 L 700 861.2 L 700 873.7 L 686 875.2 Z" fill="#b4b6d4" stroke="#111" stroke-width="1.6"/>
<ellipse cx="695.5" cy="868.0" rx="4" ry="5.6" fill="#a6a8cc" stroke="#111" stroke-width="1.4"/>
<path d="M 677 879.5 L 686 878.0 L 686 890.5 L 677 891.5 Z" fill="#8c8c90" stroke="#111" stroke-width="1.6"/>
<path d="M 686 878.0 L 700 876.5 L 700 889.0 L 686 890.5 Z" fill="#b4b6d4" stroke="#111" stroke-width="1.6"/>
<ellipse cx="695.5" cy="883.3" rx="4" ry="5.6" fill="#a6a8cc" stroke="#111" stroke-width="1.4"/>
<path d="M 677 894.9 L 686 893.4 L 686 905.9 L 677 906.9 Z" fill="#8c8c90" stroke="#111" stroke-width="1.6"/>
<path d="M 686 893.4 L 700 891.9 L 700 904.4 L 686 905.9 Z" fill="#b4b6d4" stroke="#111" stroke-width="1.6"/>
<ellipse cx="695.5" cy="898.7" rx="4" ry="5.6" fill="#a6a8cc" stroke="#111" stroke-width="1.4"/>
<path d="M 677 910.2 L 686 908.8 L 686 921.2 L 677 922.2 Z" fill="#8c8c90" stroke="#111" stroke-width="1.6"/>
<path d="M 686 908.8 L 700 907.2 L 700 919.8 L 686 921.2 Z" fill="#b4b6d4" stroke="#111" stroke-width="1.6"/>
<ellipse cx="695.5" cy="914.0" rx="4" ry="5.6" fill="#a6a8cc" stroke="#111" stroke-width="1.4"/>
<path d="M 677 925.6 L 686 924.1 L 686 936.6 L 677 937.6 Z" fill="#8c8c90" stroke="#111" stroke-width="1.6"/>
<path d="M 686 924.1 L 700 922.6 L 700 935.1 L 686 936.6 Z" fill="#b4b6d4" stroke="#111" stroke-width="1.6"/>
<ellipse cx="695.5" cy="929.4" rx="4" ry="5.6" fill="#a6a8cc" stroke="#111" stroke-width="1.4"/>
<path d="M 677 941.0 L 686 939.5 L 686 952.0 L 677 953.0 Z" fill="#8c8c90" stroke="#111" stroke-width="1.6"/>
<path d="M 686 939.5 L 700 938.0 L 700 950.5 L 686 952.0 Z" fill="#b4b6d4" stroke="#111" stroke-width="1.6"/>
<ellipse cx="695.5" cy="944.8" rx="4" ry="5.6" fill="#a6a8cc" stroke="#111" stroke-width="1.4"/>
<path d="M 677 956.3 L 686 954.8 L 686 967.3 L 677 968.3 Z" fill="#8c8c90" stroke="#111" stroke-width="1.6"/>
<path d="M 686 954.8 L 700 953.3 L 700 965.8 L 686 967.3 Z" fill="#b4b6d4" stroke="#111" stroke-width="1.6"/>
<ellipse cx="695.5" cy="960.1" rx="4" ry="5.6" fill="#a6a8cc" stroke="#111" stroke-width="1.4"/>
<path d="M 677 971.6 L 686 970.1 L 686 982.6 L 677 983.6 Z" fill="#8c8c90" stroke="#111" stroke-width="1.6"/>
<path d="M 686 970.1 L 700 968.6 L 700 981.1 L 686 982.6 Z" fill="#b4b6d4" stroke="#111" stroke-width="1.6"/>
<ellipse cx="695.5" cy="975.4" rx="4" ry="5.6" fill="#a6a8cc" stroke="#111" stroke-width="1.4"/>
<path d="M 677 987.0 L 686 985.5 L 686 998.0 L 677 999.0 Z" fill="#8c8c90" stroke="#111" stroke-width="1.6"/>
<path d="M 686 985.5 L 700 984.0 L 700 996.5 L 686 998.0 Z" fill="#b4b6d4" stroke="#111" stroke-width="1.6"/>
<ellipse cx="695.5" cy="990.8" rx="4" ry="5.6" fill="#a6a8cc" stroke="#111" stroke-width="1.4"/>
<path d="M 677 1002.4 L 686 1000.9 L 686 1013.4 L 677 1014.4 Z" fill="#8c8c90" stroke="#111" stroke-width="1.6"/>
<path d="M 686 1000.9 L 700 999.4 L 700 1011.9 L 686 1013.4 Z" fill="#b4b6d4" stroke="#111" stroke-width="1.6"/>
<ellipse cx="695.5" cy="1006.1" rx="4" ry="5.6" fill="#a6a8cc" stroke="#111" stroke-width="1.4"/>
<path d="M 677 1017.7 L 686 1016.2 L 686 1028.7 L 677 1029.7 Z" fill="#8c8c90" stroke="#111" stroke-width="1.6"/>
<path d="M 686 1016.2 L 700 1014.7 L 700 1027.2 L 686 1028.7 Z" fill="#b4b6d4" stroke="#111" stroke-width="1.6"/>
<ellipse cx="695.5" cy="1021.5" rx="4" ry="5.6" fill="#a6a8cc" stroke="#111" stroke-width="1.4"/>
<line x1="701" y1="780" x2="701" y2="1070" stroke="#111" stroke-width="2.5"/>
<path d="M 776 726.7 L 726.3 726.7 Q 713.3 726.7 713.3 739.7 L 713.3 830.3 Q 713.3 843.3 726.3 843.3 L 776 843.3 Z" fill="#dcdbe0" stroke="#111" stroke-width="3"/>
<rect x="764.5" y="728.2" width="10" height="113.59999999999991" fill="url(#brR)"/>
<line x1="764" y1="726.7" x2="764" y2="843.3" stroke="#111" stroke-width="2.5"/>
<circle cx="734.8" cy="784.4" r="13.2" fill="url(#hr)" stroke="#111" stroke-width="2.3"/>
<circle cx="734.8" cy="786.8" r="7" fill="#f0f0f4" stroke="#111" stroke-width="2.6"/>
<path d="M 734.8 781.1999999999999 A 5.6 5.6 0 0 1 734.8 792.4 Z" fill="#111"/>
<circle cx="734.8" cy="786.4" r="7" fill="#a8a8ae" stroke="#111" stroke-width="2.6"/>
<path d="M 728.5 785 A 6.5 6.5 0 0 1 741 785 Q 734.8 781.5 728.5 785 Z" fill="#111"/>
<circle cx="240" cy="664" r="16" fill="url(#wash)" stroke="#111" stroke-width="2.5"/>
<rect x="31" y="457.5" width="399" height="208" fill="#2f8f2f" stroke="#111" stroke-width="3"/>
<ellipse cx="173.5" cy="467" rx="45" ry="21" fill="#4b3fa0" stroke="#111" stroke-width="3"/>
<ellipse cx="173.5" cy="480" rx="31" ry="8" fill="#3a2f90" stroke="#111" stroke-width="2.5"/>
<line x1="173.5" y1="446" x2="173.5" y2="472" stroke="#111" stroke-width="2"/>
<path d="M 125.69999999999999 504.5 Q 125.69999999999999 499.5 129.7 499.5 L 129.7 495.5 Q 131.7 494.0 133.7 495.5 L 134.7 499.5 L 152.7 499.5 L 153.7 495.5 Q 155.7 494.0 157.7 495.5 L 157.7 499.5 Q 161.7 499.5 161.7 504.5 L 161.7 531.5 Q 161.7 535.5 157.7 535.5 L 129.7 535.5 Q 125.69999999999999 535.5 125.69999999999999 531.5 Z" fill="#111"/>
<path d="M 125.69999999999999 605.5 Q 125.69999999999999 600.5 129.7 600.5 L 157.7 600.5 Q 161.7 600.5 161.7 605.5 L 161.7 640.5 Q 161.7 644.5 157.7 644.5 L 147.7 644.5 L 147.7 648.0 L 139.7 648.0 L 139.7 644.5 L 129.7 644.5 Q 125.69999999999999 644.5 125.69999999999999 640.5 Z" fill="#111"/>
<path d="M 132.0 528.0 Q 143.7 525.0 155.39999999999998 528.0 L 155.39999999999998 601.5 Q 143.7 598.5 132.0 601.5 Z" fill="url(#glass)" stroke="#111" stroke-width="2.5"/>
<path d="M 134.5 504.5 Q 143.7 502.0 152.89999999999998 504.5 L 152.89999999999998 524.5 Q 143.7 522.5 134.5 524.5 Z" fill="url(#cap)"/>
<path d="M 134.5 605.5 Q 143.7 603.0 152.89999999999998 605.5 L 152.89999999999998 626.1 Q 143.7 624.5 134.5 626.1 Z" fill="url(#cap)"/>
<ellipse cx="143.7" cy="631.2" rx="7.5" ry="2.5" fill="#a8a8b4"/>
<path d="M 135.7 634.5 L 151.7 634.5 L 147.7 640.5 L 139.7 640.5 Z" fill="#c8c8d0"/>
<rect x="128.7" y="631.5" width="2" height="6" fill="#b8b8d0"/><rect x="156.7" y="631.5" width="2" height="6" fill="#b8b8d0"/>
<path d="M 180.5 504.5 Q 180.5 499.5 184.5 499.5 L 184.5 495.5 Q 186.5 494.0 188.5 495.5 L 189.5 499.5 L 207.5 499.5 L 208.5 495.5 Q 210.5 494.0 212.5 495.5 L 212.5 499.5 Q 216.5 499.5 216.5 504.5 L 216.5 531.5 Q 216.5 535.5 212.5 535.5 L 184.5 535.5 Q 180.5 535.5 180.5 531.5 Z" fill="#111"/>
<path d="M 180.5 605.5 Q 180.5 600.5 184.5 600.5 L 212.5 600.5 Q 216.5 600.5 216.5 605.5 L 216.5 640.5 Q 216.5 644.5 212.5 644.5 L 202.5 644.5 L 202.5 648.0 L 194.5 648.0 L 194.5 644.5 L 184.5 644.5 Q 180.5 644.5 180.5 640.5 Z" fill="#111"/>
<path d="M 186.8 528.0 Q 198.5 525.0 210.2 528.0 L 210.2 601.5 Q 198.5 598.5 186.8 601.5 Z" fill="url(#glass)" stroke="#111" stroke-width="2.5"/>
<path d="M 189.3 504.5 Q 198.5 502.0 207.7 504.5 L 207.7 524.5 Q 198.5 522.5 189.3 524.5 Z" fill="url(#cap)"/>
<path d="M 189.3 605.5 Q 198.5 603.0 207.7 605.5 L 207.7 626.1 Q 198.5 624.5 189.3 626.1 Z" fill="url(#cap)"/>
<ellipse cx="198.5" cy="631.2" rx="7.5" ry="2.5" fill="#a8a8b4"/>
<path d="M 190.5 634.5 L 206.5 634.5 L 202.5 640.5 L 194.5 640.5 Z" fill="#c8c8d0"/>
<rect x="183.5" y="631.5" width="2" height="6" fill="#b8b8d0"/><rect x="211.5" y="631.5" width="2" height="6" fill="#b8b8d0"/>
<path d="M 234.9 476 Q 234.9 471 238.9 471 L 238.9 467 Q 240.9 465.5 242.9 467 L 243.9 471 L 261.9 471 L 262.9 467 Q 264.9 465.5 266.9 467 L 266.9 471 Q 270.9 471 270.9 476 L 270.9 503 Q 270.9 507 266.9 507 L 238.9 507 Q 234.9 507 234.9 503 Z" fill="#111"/>
<path d="M 234.9 577 Q 234.9 572 238.9 572 L 266.9 572 Q 270.9 572 270.9 577 L 270.9 612 Q 270.9 616 266.9 616 L 256.9 616 L 256.9 619.5 L 248.9 619.5 L 248.9 616 L 238.9 616 Q 234.9 616 234.9 612 Z" fill="#111"/>
<path d="M 241.20000000000002 499.5 Q 252.9 496.5 264.6 499.5 L 264.6 573 Q 252.9 570 241.20000000000002 573 Z" fill="url(#glass)" stroke="#111" stroke-width="2.5"/>
<path d="M 243.70000000000002 476 Q 252.9 473.5 262.1 476 L 262.1 496 Q 252.9 494 243.70000000000002 496 Z" fill="url(#cap)"/>
<path d="M 243.70000000000002 577 Q 252.9 574.5 262.1 577 L 262.1 597.6 Q 252.9 596 243.70000000000002 597.6 Z" fill="url(#cap)"/>
<ellipse cx="252.9" cy="602.7" rx="7.5" ry="2.5" fill="#a8a8b4"/>
<path d="M 244.9 606 L 260.9 606 L 256.9 612 L 248.9 612 Z" fill="#c8c8d0"/>
<rect x="237.9" y="603" width="2" height="6" fill="#b8b8d0"/><rect x="265.9" y="603" width="2" height="6" fill="#b8b8d0"/>
<path d="M 289.5 476 Q 289.5 471 293.5 471 L 293.5 467 Q 295.5 465.5 297.5 467 L 298.5 471 L 316.5 471 L 317.5 467 Q 319.5 465.5 321.5 467 L 321.5 471 Q 325.5 471 325.5 476 L 325.5 503 Q 325.5 507 321.5 507 L 293.5 507 Q 289.5 507 289.5 503 Z" fill="#111"/>
<path d="M 289.5 577 Q 289.5 572 293.5 572 L 321.5 572 Q 325.5 572 325.5 577 L 325.5 612 Q 325.5 616 321.5 616 L 311.5 616 L 311.5 619.5 L 303.5 619.5 L 303.5 616 L 293.5 616 Q 289.5 616 289.5 612 Z" fill="#111"/>
<path d="M 295.8 499.5 Q 307.5 496.5 319.2 499.5 L 319.2 573 Q 307.5 570 295.8 573 Z" fill="url(#glass)" stroke="#111" stroke-width="2.5"/>
<path d="M 298.3 476 Q 307.5 473.5 316.7 476 L 316.7 496 Q 307.5 494 298.3 496 Z" fill="url(#cap)"/>
<path d="M 298.3 577 Q 307.5 574.5 316.7 577 L 316.7 597.6 Q 307.5 596 298.3 597.6 Z" fill="url(#cap)"/>
<ellipse cx="307.5" cy="602.7" rx="7.5" ry="2.5" fill="#a8a8b4"/>
<path d="M 299.5 606 L 315.5 606 L 311.5 612 L 303.5 612 Z" fill="#c8c8d0"/>
<rect x="292.5" y="603" width="2" height="6" fill="#b8b8d0"/><rect x="320.5" y="603" width="2" height="6" fill="#b8b8d0"/>
<path d="M 343.9 476 Q 343.9 471 347.9 471 L 347.9 467 Q 349.9 465.5 351.9 467 L 352.9 471 L 370.9 471 L 371.9 467 Q 373.9 465.5 375.9 467 L 375.9 471 Q 379.9 471 379.9 476 L 379.9 503 Q 379.9 507 375.9 507 L 347.9 507 Q 343.9 507 343.9 503 Z" fill="#111"/>
<path d="M 343.9 577 Q 343.9 572 347.9 572 L 375.9 572 Q 379.9 572 379.9 577 L 379.9 612 Q 379.9 616 375.9 616 L 365.9 616 L 365.9 619.5 L 357.9 619.5 L 357.9 616 L 347.9 616 Q 343.9 616 343.9 612 Z" fill="#111"/>
<path d="M 350.2 499.5 Q 361.9 496.5 373.59999999999997 499.5 L 373.59999999999997 573 Q 361.9 570 350.2 573 Z" fill="url(#glass)" stroke="#111" stroke-width="2.5"/>
<path d="M 352.7 476 Q 361.9 473.5 371.09999999999997 476 L 371.09999999999997 496 Q 361.9 494 352.7 496 Z" fill="url(#cap)"/>
<path d="M 352.7 577 Q 361.9 574.5 371.09999999999997 577 L 371.09999999999997 597.6 Q 361.9 596 352.7 597.6 Z" fill="url(#cap)"/>
<ellipse cx="361.9" cy="602.7" rx="7.5" ry="2.5" fill="#a8a8b4"/>
<path d="M 353.9 606 L 369.9 606 L 365.9 612 L 357.9 612 Z" fill="#c8c8d0"/>
<rect x="346.9" y="603" width="2" height="6" fill="#b8b8d0"/><rect x="374.9" y="603" width="2" height="6" fill="#b8b8d0"/>
<ellipse cx="50" cy="496" rx="12" ry="9.5" fill="#111"/>
<ellipse cx="50" cy="493" rx="9.5" ry="6" fill="#ffffff"/>
<circle cx="50.5" cy="476" r="11" fill="url(#ball)" stroke="#111" stroke-width="2.2"/>
<rect x="55" y="466" width="6" height="20" fill="#ffffff"/>
<rect x="66" y="467.5" width="51.5" height="31.5" rx="2" fill="#ffffff" stroke="#111" stroke-width="2.2"/>
<rect x="72" y="458" width="40" height="21" fill="#ffffff" stroke="#111" stroke-width="2.2"/>
<rect x="78" y="481.5" width="31.5" height="12.5" fill="#9a9aa6" stroke="#111" stroke-width="2"/>
<rect x="66" y="480" width="8" height="16" fill="#111"/>
<circle cx="84" cy="469" r="5.5" fill="#fff" stroke="#111" stroke-width="2"/><circle cx="100" cy="469" r="5.5" fill="#fff" stroke="#111" stroke-width="2"/>
<path d="M 82 464 Q 92 457 102 464" fill="none" stroke="#e02020" stroke-width="2.2"/>
<circle cx="83" cy="469" r="1.2" fill="#e02020"/><circle cx="101" cy="469" r="1.2" fill="#e02020"/>
<rect x="71.5" y="502" width="44" height="30" fill="#8e8e9a" stroke="#111" stroke-width="2"/>
<rect x="73" y="503.5" width="41" height="11" fill="#ececf2"/>
<path d="M 75 508 h 36" stroke="#444" stroke-width="3" stroke-dasharray="4 2"/>
<line x1="72" y1="515" x2="115" y2="515" stroke="#111" stroke-width="1.5"/>
<rect x="94.5" y="527" width="12" height="13" fill="#e4e4ec" stroke="#111" stroke-width="2"/>
<rect x="42" y="538.5" width="42.5" height="73.5" fill="#8e8e9a" stroke="#111" stroke-width="2.2"/>
<rect x="44.5" y="541" width="37.5" height="55" fill="#ececf2" stroke="#111" stroke-width="1.5"/>
<rect x="47.0" y="544" width="14" height="13.5" fill="#8e8e9a" stroke="#111" stroke-width="1.8"/>
<path d="M 51.0 556 A 3 3 0 0 1 57.0 556" fill="none" stroke="#111" stroke-width="1.5"/>
<rect x="64.5" y="544" width="14" height="13.5" fill="#8e8e9a" stroke="#111" stroke-width="1.8"/>
<path d="M 68.5 556 A 3 3 0 0 1 74.5 556" fill="none" stroke="#111" stroke-width="1.5"/>
<rect x="47.0" y="561" width="14" height="13.5" fill="#8e8e9a" stroke="#111" stroke-width="1.8"/>
<path d="M 51.0 573 A 3 3 0 0 1 57.0 573" fill="none" stroke="#111" stroke-width="1.5"/>
<rect x="64.5" y="561" width="14" height="13.5" fill="#8e8e9a" stroke="#111" stroke-width="1.8"/>
<path d="M 68.5 573 A 3 3 0 0 1 74.5 573" fill="none" stroke="#111" stroke-width="1.5"/>
<rect x="47.0" y="578" width="14" height="13.5" fill="#8e8e9a" stroke="#111" stroke-width="1.8"/>
<path d="M 51.0 590 A 3 3 0 0 1 57.0 590" fill="none" stroke="#111" stroke-width="1.5"/>
<rect x="64.5" y="578" width="14" height="13.5" fill="#8e8e9a" stroke="#111" stroke-width="1.8"/>
<path d="M 68.5 590 A 3 3 0 0 1 74.5 590" fill="none" stroke="#111" stroke-width="1.5"/>
<rect x="96" y="547" width="27.5" height="78" fill="#ffffff" stroke="#111" stroke-width="2"/>
<rect x="105.5" y="575" width="8" height="24" fill="#111"/>
<rect x="104.5" y="573.5" width="10" height="3" fill="#111"/><rect x="104.5" y="597.5" width="10" height="3" fill="#111"/>
<rect x="49" y="621" width="58" height="23" fill="#ececf4" stroke="#111" stroke-width="2.2"/>
<rect x="52.5" y="644" width="53.5" height="17" fill="#8e8e9a" stroke="#111" stroke-width="2"/>
<rect x="107" y="627" width="4" height="12" fill="#ececf4" stroke="#111" stroke-width="1.5"/>
<path d="M 52.0 624 L 63.0 624 Q 67.5 626 67.5 632.5 Q 67.5 639 63.0 641 L 52.0 641 Z" fill="#8e8e9a" stroke="#111" stroke-width="2"/>
<path d="M 57.0 640 A 3 3 0 0 1 63.0 640" fill="none" stroke="#111" stroke-width="1.5"/>
<path d="M 69.5 624 L 80.5 624 Q 85.0 626 85.0 632.5 Q 85.0 639 80.5 641 L 69.5 641 Z" fill="#8e8e9a" stroke="#111" stroke-width="2"/>
<path d="M 74.5 640 A 3 3 0 0 1 80.5 640" fill="none" stroke="#111" stroke-width="1.5"/>
<path d="M 87.0 624 L 98.0 624 Q 102.5 626 102.5 632.5 Q 102.5 639 98.0 641 L 87.0 641 Z" fill="#8e8e9a" stroke="#111" stroke-width="2"/>
<path d="M 92.0 640 A 3 3 0 0 1 98.0 640" fill="none" stroke="#111" stroke-width="1.5"/>
<path d="M 253 632 L 262 624 L 262 640 Z" fill="#e8e8ee" stroke="#111" stroke-width="1.5"/>
<path d="M 388 632 L 379 624 L 379 640 Z" fill="#e8e8ee" stroke="#111" stroke-width="1.5"/>
<rect x="264" y="613" width="113" height="29" fill="#ffffff" stroke="#111" stroke-width="2.5"/>
<rect x="264" y="642" width="113" height="17" fill="#9a9aa6" stroke="#111" stroke-width="2"/>
<rect x="263.5" y="654.5" width="6" height="6.5" fill="#fff" stroke="#111" stroke-width="1.6"/>
<rect x="290.5" y="654.5" width="6" height="6.5" fill="#fff" stroke="#111" stroke-width="1.6"/>
<rect x="317.4" y="654.5" width="6" height="6.5" fill="#fff" stroke="#111" stroke-width="1.6"/>
<rect x="344.3" y="654.5" width="6" height="6.5" fill="#fff" stroke="#111" stroke-width="1.6"/>
<rect x="371" y="654.5" width="6" height="6.5" fill="#fff" stroke="#111" stroke-width="1.6"/>
<path d="M 267.6 641 L 267.6 629 A 12 12 0 0 1 291.6 629 L 291.6 641 Z" fill="url(#dh)" stroke="#111" stroke-width="3"/>
<circle cx="279.6" cy="636" r="2.8" fill="#fff" stroke="#111" stroke-width="1.5"/>
<path d="M 294.4 641 L 294.4 629 A 12 12 0 0 1 318.4 629 L 318.4 641 Z" fill="url(#dh)" stroke="#111" stroke-width="3"/>
<circle cx="306.4" cy="636" r="2.8" fill="#fff" stroke="#111" stroke-width="1.5"/>
<path d="M 321 641 L 321 629 A 12 12 0 0 1 345 629 L 345 641 Z" fill="url(#dh)" stroke="#111" stroke-width="3"/>
<circle cx="333" cy="636" r="2.8" fill="#fff" stroke="#111" stroke-width="1.5"/>
<path d="M 348.8 641 L 348.8 629 A 12 12 0 0 1 372.8 629 L 372.8 641 Z" fill="url(#dh)" stroke="#111" stroke-width="3"/>
<circle cx="360.8" cy="636" r="2.8" fill="#fff" stroke="#111" stroke-width="1.5"/>
<circle cx="241" cy="643" r="17.2" fill="url(#scr)" stroke="#111" stroke-width="2.6"/>
<circle cx="241" cy="643" r="9.5" fill="#111"/>
<polygon points="241.0,637.4 242.8,639.9 245.8,640.2 244.6,643.0 245.8,645.8 242.8,646.1 241.0,648.6 239.2,646.1 236.2,645.8 237.4,643.0 236.2,640.2 239.2,639.9" fill="#f4f4f8"/>
<path d="M 394 500 Q 392 484 408 484 Q 424 484 422 500 L 422 503 L 394 503 Z" fill="#111"/>
<ellipse cx="408" cy="492.5" rx="10.5" ry="4.5" fill="#ffffff"/>
<circle cx="407.8" cy="476.8" r="12.3" fill="url(#ball)" stroke="#111" stroke-width="2.5"/>
<rect x="392" y="503.5" width="32" height="99" fill="#8e8e9a" stroke="#111" stroke-width="2.2"/>
<rect x="394" y="505.5" width="28" height="80" fill="#e4e4ec" stroke="#111" stroke-width="1.2"/>
<path d="M 421.3 507 L 406 507 A 11 11 0 0 0 406 529 L 421.3 529 Z" fill="#e4e4ec" stroke="#111" stroke-width="3"/>
<path d="M 406 509 A 9 9 0 0 0 397 518 L 406 518 Z" fill="#a8aad0"/>
<rect x="409" y="510" width="10" height="8" fill="#8e8e9a"/>
<rect x="412" y="519.5" width="6" height="7.5" fill="#ffffff" stroke="#111" stroke-width="1"/>
<line x1="407" y1="508" x2="407" y2="528" stroke="#111" stroke-width="2"/>
<circle cx="408" cy="521" r="1.8" fill="#fff"/>
<path d="M 421.3 534.2 L 406 534.2 A 11 11 0 0 0 406 556.2 L 421.3 556.2 Z" fill="#e4e4ec" stroke="#111" stroke-width="3"/>
<path d="M 406 536.2 A 9 9 0 0 0 397 545.2 L 406 545.2 Z" fill="#a8aad0"/>
<rect x="409" y="537.2" width="10" height="8" fill="#8e8e9a"/>
<rect x="412" y="546.7" width="6" height="7.5" fill="#ffffff" stroke="#111" stroke-width="1"/>
<line x1="407" y1="535.2" x2="407" y2="555.2" stroke="#111" stroke-width="2"/>
<circle cx="408" cy="548.2" r="1.8" fill="#fff"/>
<path d="M 421.3 560 L 406 560 A 11 11 0 0 0 406 582 L 421.3 582 Z" fill="#e4e4ec" stroke="#111" stroke-width="3"/>
<path d="M 406 562 A 9 9 0 0 0 397 571 L 406 571 Z" fill="#a8aad0"/>
<rect x="409" y="563" width="10" height="8" fill="#8e8e9a"/>
<rect x="412" y="572.5" width="6" height="7.5" fill="#ffffff" stroke="#111" stroke-width="1"/>
<line x1="407" y1="561" x2="407" y2="581" stroke="#111" stroke-width="2"/>
<circle cx="408" cy="574" r="1.8" fill="#fff"/>
<rect x="393" y="587" width="8.300000000000011" height="15" fill="#8e8e9a" stroke="#111" stroke-width="1.5"/>
<rect x="403.2" y="587" width="9.100000000000023" height="15" fill="#8e8e9a" stroke="#111" stroke-width="1.5"/>
<rect x="414.2" y="587" width="9.100000000000023" height="15" fill="#8e8e9a" stroke="#111" stroke-width="1.5"/>
<rect x="424" y="517" width="4" height="4" fill="#fff" stroke="#111" stroke-width="1"/>
<rect x="424" y="543" width="4" height="4" fill="#fff" stroke="#111" stroke-width="1"/>
<rect x="424" y="569" width="4" height="4" fill="#fff" stroke="#111" stroke-width="1"/>
<rect x="424" y="594" width="4" height="4" fill="#fff" stroke="#111" stroke-width="1"/>
<path d="M 25 607 L 30 607 Q 35 612 35 620 L 35 712 Q 35 722 30 725 L 25 725 Z" fill="#dadaf0" stroke="#111" stroke-width="2"/>
<path d="M 17 640 Q 14 663 17 687" fill="none" stroke="#111" stroke-width="3"/>
<rect x="38" y="611" width="8" height="107" fill="#f4f4f8" stroke="#111" stroke-width="2"/>
<line x1="38" y1="660" x2="46" y2="660" stroke="#111" stroke-width="1.5"/>
<line x1="38" y1="700" x2="46" y2="700" stroke="#111" stroke-width="1.5"/>
<rect x="46" y="644" width="7.5" height="41" fill="#f0f0f4" stroke="#111" stroke-width="2"/>
<line x1="46" y1="663" x2="53.5" y2="663" stroke="#111" stroke-width="1.5"/>
<ellipse cx="71.5" cy="617" rx="7" ry="5" fill="#111"/>
<ellipse cx="71.5" cy="614" rx="4.5" ry="3.5" fill="#f0f0f4"/>
<rect x="34.5" y="780" width="17" height="164" fill="#c4c4c4" stroke="#111" stroke-width="2"/>
<rect x="51.5" y="709" width="67.8" height="326.5" rx="3" fill="#0e0e10"/>
<clipPath id="tz1"><rect x="56" y="715" width="58" height="9"/></clipPath>
<rect x="56" y="715" width="58" height="9" fill="#868a94"/>
<g clip-path="url(#tz1)">
<circle cx="70" cy="728" r="11" fill="#0c0c0e"/>
<path d="M 63.4 725.2 A 7.2 7.2 0 0 1 76.6 725.8" fill="none" stroke="#5c5c66" stroke-width="1.2"/>
<path d="M 68.9 733.0 L 73.3 725.8" stroke="#5c5c66" stroke-width="1.2"/>
<circle cx="101" cy="728" r="11" fill="#0c0c0e"/>
<path d="M 94.4 725.2 A 7.2 7.2 0 0 1 107.6 725.8" fill="none" stroke="#5c5c66" stroke-width="1.2"/>
<path d="M 99.9 733.0 L 104.3 725.8" stroke="#5c5c66" stroke-width="1.2"/>
</g>
<rect x="56" y="727" width="58" height="18" fill="#868a94"/>
<circle cx="70" cy="738" r="11.2" fill="#0c0c0e"/>
<path d="M 63.3 735.2 A 7.3 7.3 0 0 1 76.7 735.8" fill="none" stroke="#5c5c66" stroke-width="1.2"/>
<path d="M 68.9 743.0 L 73.4 735.8" stroke="#5c5c66" stroke-width="1.2"/>
<circle cx="101" cy="738" r="11.2" fill="#0c0c0e"/>
<path d="M 94.3 735.2 A 7.3 7.3 0 0 1 107.7 735.8" fill="none" stroke="#5c5c66" stroke-width="1.2"/>
<path d="M 99.9 743.0 L 104.4 735.8" stroke="#5c5c66" stroke-width="1.2"/>
<rect x="61.6" y="746.5" width="47.9" height="142" fill="#c4c4c4"/>
<line x1="61.6" y1="861" x2="77" y2="861" stroke="#111" stroke-width="2.2"/>
<rect x="57" y="891" width="57" height="15" fill="#868a94"/>
<line x1="57" y1="897.5" x2="114" y2="897.5" stroke="#111" stroke-width="2"/>
<rect x="57" y="906" width="57" height="27" fill="#868a94" stroke="#111" stroke-width="1.5"/>
<rect x="81" y="891" width="6" height="26" fill="#a0a4ac" stroke="#111" stroke-width="1.5"/>
<circle cx="68.7" cy="923" r="7.4" fill="#868a94" stroke="#111" stroke-width="2.6"/>
<path d="M 62.5 922 L 74.5 922" stroke="#111" stroke-width="2.2"/>
<path d="M 96 933 L 96 922 A 6.5 6.5 0 0 1 109 922 L 109 930 L 104 930 L 104 933" fill="none" stroke="#111" stroke-width="2.6"/>
<path d="M 88 933 L 92 920" stroke="#111" stroke-width="2.5"/>
<rect x="57" y="936" width="57.4" height="32" fill="#868a94"/>
<circle cx="68.7" cy="954.4" r="12.2" fill="#0c0c0e"/>
<path d="M 61.4 951.4 A 7.9 7.9 0 0 1 76.0 952.0" fill="none" stroke="#5c5c66" stroke-width="1.2"/>
<path d="M 67.5 959.9 L 72.4 952.0" stroke="#5c5c66" stroke-width="1.2"/>
<circle cx="101.2" cy="954.4" r="12.2" fill="#0c0c0e"/>
<path d="M 93.9 951.4 A 7.9 7.9 0 0 1 108.5 952.0" fill="none" stroke="#5c5c66" stroke-width="1.2"/>
<path d="M 100.0 959.9 L 104.9 952.0" stroke="#5c5c66" stroke-width="1.2"/>
<rect x="63.3" y="974.5" width="13" height="9.5" fill="#868a94"/>
<rect x="95" y="974.5" width="13" height="9.5" fill="#868a94"/>
<rect x="80.3" y="978" width="10" height="14" fill="#868a94"/>
<rect x="57" y="995" width="57.4" height="24.5" fill="#868a94"/>
<circle cx="68.7" cy="1006.3" r="12.2" fill="#0c0c0e"/>
<path d="M 61.4 1003.2 A 7.9 7.9 0 0 1 76.0 1003.9" fill="none" stroke="#5c5c66" stroke-width="1.2"/>
<path d="M 67.5 1011.8 L 72.4 1003.9" stroke="#5c5c66" stroke-width="1.2"/>
<circle cx="101.2" cy="1006.3" r="12.2" fill="#0c0c0e"/>
<path d="M 93.9 1003.2 A 7.9 7.9 0 0 1 108.5 1003.9" fill="none" stroke="#5c5c66" stroke-width="1.2"/>
<path d="M 100.0 1011.8 L 104.9 1003.9" stroke="#5c5c66" stroke-width="1.2"/>
<rect x="63.3" y="1022.5" width="13" height="11" fill="#868a94"/>
<rect x="95" y="1022.5" width="13" height="11" fill="#868a94"/>
<rect x="34.6" y="943.6" width="17" height="18.6" fill="#c8c8cc" stroke="#111" stroke-width="2"/>
<line x1="35" y1="949" x2="51" y2="949" stroke="#111" stroke-width="1.5"/>
<rect x="306" y="943" width="16" height="20" fill="#c8c8cc" stroke="#111" stroke-width="1.5"/>
<rect x="306" y="820" width="15" height="26" fill="#c8c8cc" stroke="#111" stroke-width="1.5"/>
<rect x="116" y="706" width="190" height="310" fill="#9a9a9c" stroke="#111" stroke-width="3"/>
<rect x="124" y="708" width="176" height="68" fill="#f8e86c" stroke="#111" stroke-width="3"/>
<rect x="124" y="877" width="176" height="68" fill="#f8e86c" stroke="#111" stroke-width="3"/>
<rect x="116" y="945" width="190" height="21" fill="#9a9a9c" stroke="#111" stroke-width="2.5"/>
<rect x="119" y="966" width="187" height="48.5" fill="#969698" stroke="#111" stroke-width="2.5"/>
<path d="M 143 974 L 138 974 Q 124.5 976 124.5 988 Q 124.5 1002 138 1002 L 143 1002 Z" fill="#585858" stroke="#111" stroke-width="2.8"/>
<path d="M 281 974 L 286 974 Q 299.5 976 299.5 988 Q 299.5 1002 286 1002 L 281 1002 Z" fill="#585858" stroke="#111" stroke-width="2.8"/>
<rect x="142" y="979" width="140" height="5" fill="#111"/>
<rect x="142" y="967" width="140" height="13" fill="#f8e86c" stroke="#111" stroke-width="2"/>
<rect x="142" y="983" width="140" height="13" fill="#f8e86c" stroke="#111" stroke-width="2"/>
<path d="M 119 1009 L 160.5 1009 L 160.5 997 M 263.3 997 L 263.3 1009 L 306 1009" fill="none" stroke="#111" stroke-width="2.2"/>
<line x1="121" y1="706" x2="121" y2="945" stroke="#111" stroke-width="2"/>
<path d="M 19 727.5 L 69.4 727.5 Q 82.4 727.5 82.4 740.5 L 82.4 830.5 Q 82.4 843.5 69.4 843.5 L 19 843.5 Z" fill="#dcdbe0" stroke="#111" stroke-width="3"/>
<rect x="20.5" y="729.0" width="10" height="113.0" fill="url(#brL)"/>
<line x1="31" y1="727.5" x2="31" y2="843.5" stroke="#111" stroke-width="2.5"/>
<circle cx="61" cy="784.3" r="14" fill="#585858" stroke="#111" stroke-width="3"/>
<circle cx="61.3" cy="786.3" r="7.5" fill="#111"/>
<path d="M 62.5 781.8 A 5 5 0 0 1 62.5 790.8 Z" fill="#9aa0b0"/>
<circle cx="88" cy="805" r="6.4" fill="#c8c8c8" stroke="#111" stroke-width="4"/>
<rect x="36" y="1036.7" width="278" height="130" fill="#38383c" stroke="#111" stroke-width="3"/>
<path d="M 425.8 750 L 425.8 730 Q 425.8 714.2 441 714.2 L 458.7 714.2 Q 473.9 714.2 473.9 730 L 473.9 750 Z" fill="#f2f2f6" stroke="#111" stroke-width="2.8"/>
<circle cx="449.8" cy="737.4" r="20.2" fill="#6a6a6c" stroke="#111" stroke-width="2.6"/>
<circle cx="449.8" cy="737.4" r="16.6" fill="url(#scr)" stroke="#111" stroke-width="2.6"/>
<circle cx="449.8" cy="737.4" r="9.2" fill="#111"/>
<polygon points="449.8,732.0 451.6,734.4 454.5,734.7 453.3,737.4 454.5,740.1 451.6,740.4 449.8,742.8 448.1,740.4 445.1,740.1 446.3,737.4 445.1,734.7 448.1,734.4" fill="#f0f0f6"/>
<rect x="321.5" y="744" width="151.5" height="307" fill="#6a6a6c" stroke="#111" stroke-width="3"/>
<rect x="332" y="748" width="39" height="15.5" fill="#5a5a5c" stroke="#111" stroke-width="2"/>
<text transform="translate(353.5 761.5) scale(0.82 1)" font-family="Liberation Sans" font-weight="bold" font-size="15.5" fill="#111" stroke="#111" stroke-width="1.5" text-anchor="middle">1/L1</text>
<rect x="332" y="1016.5" width="39" height="15" fill="#5a5a5c" stroke="#111" stroke-width="2"/>
<rect x="374" y="748" width="47.5" height="15.5" fill="#5a5a5c" stroke="#111" stroke-width="2"/>
<text transform="translate(399.75 761.5) scale(0.82 1)" font-family="Liberation Sans" font-weight="bold" font-size="15.5" fill="#111" stroke="#111" stroke-width="1.5" text-anchor="middle">3/L2</text>
<rect x="374" y="1016.5" width="47.5" height="15" fill="#5a5a5c" stroke="#111" stroke-width="2"/>
<rect x="423.5" y="748" width="40.0" height="15.5" fill="#5a5a5c" stroke="#111" stroke-width="2"/>
<text transform="translate(445.5 761.5) scale(0.82 1)" font-family="Liberation Sans" font-weight="bold" font-size="15.5" fill="#111" stroke="#111" stroke-width="1.5" text-anchor="middle">5/L3</text>
<rect x="423.5" y="1016.5" width="40.0" height="15" fill="#5a5a5c" stroke="#111" stroke-width="2"/>
<text transform="translate(353.5 1029.5) scale(0.82 1)" font-family="Liberation Sans" font-weight="bold" font-size="15.5" fill="#111" stroke="#111" stroke-width="1.5" text-anchor="middle">2/T1</text>
<text transform="translate(399.75 1029.5) scale(0.82 1)" font-family="Liberation Sans" font-weight="bold" font-size="15.5" fill="#111" stroke="#111" stroke-width="1.5" text-anchor="middle">4/T2</text>
<text transform="translate(445.5 1029.5) scale(0.82 1)" font-family="Liberation Sans" font-weight="bold" font-size="15.5" fill="#111" stroke="#111" stroke-width="1.5" text-anchor="middle">6/T3</text>
<clipPath id="chu"><rect x="322" y="764" width="150" height="36"/></clipPath>
<clipPath id="chl"><rect x="322" y="974" width="150" height="41"/></clipPath>
<g clip-path="url(#chu)">
<circle cx="352.3" cy="789.5" r="21" fill="none" stroke="#111" stroke-width="2.5"/>
<circle cx="352.3" cy="789.5" r="15" fill="none" stroke="#111" stroke-width="3"/>
<circle cx="397.2" cy="789.5" r="21" fill="none" stroke="#111" stroke-width="2.5"/>
<circle cx="397.2" cy="789.5" r="15" fill="none" stroke="#111" stroke-width="3"/>
<circle cx="442" cy="789.5" r="21" fill="none" stroke="#111" stroke-width="2.5"/>
<circle cx="442" cy="789.5" r="15" fill="none" stroke="#111" stroke-width="3"/>
</g><g clip-path="url(#chl)">
<circle cx="352.3" cy="989.3" r="21.5" fill="none" stroke="#111" stroke-width="2.5"/>
<circle cx="352.3" cy="989.3" r="15" fill="none" stroke="#111" stroke-width="3"/>
<circle cx="397.2" cy="989.3" r="21.5" fill="none" stroke="#111" stroke-width="2.5"/>
<circle cx="397.2" cy="989.3" r="15" fill="none" stroke="#111" stroke-width="3"/>
<circle cx="442" cy="989.3" r="21.5" fill="none" stroke="#111" stroke-width="2.5"/>
<circle cx="442" cy="989.3" r="15" fill="none" stroke="#111" stroke-width="3"/>
</g>
<line x1="321.5" y1="800" x2="473" y2="800" stroke="#111" stroke-width="2.5"/>
<line x1="322" y1="831" x2="364" y2="801" stroke="#111" stroke-width="2.5"/>
<line x1="473" y1="831" x2="431" y2="801" stroke="#111" stroke-width="2.5"/>
<rect x="378.5" y="840" width="38" height="56" rx="14" fill="url(#stem)" stroke="#111" stroke-width="1.5"/>
<circle cx="397.2" cy="818.5" r="36.4" fill="url(#knob)" stroke="#111" stroke-width="2.5"/>
<circle cx="397.5" cy="810.7" r="25.7" fill="#6a6a6c" stroke="#111" stroke-width="2.5"/>
<line x1="322.4" y1="925.8" x2="376.6" y2="965" stroke="#111" stroke-width="3"/>
<line x1="472.9" y1="925.8" x2="418.7" y2="965" stroke="#111" stroke-width="3"/>
<rect x="321.5" y="965" width="151.5" height="9" fill="#3a3a3e" stroke="#111" stroke-width="2"/>
<rect x="321.5" y="1034" width="151.5" height="17" fill="#2c2c30" stroke="#111" stroke-width="2"/>
<path d="M 338.3 1038 L 366.3 1038 L 364.3 1046 L 340.3 1046 Z" fill="#4a4a5e"/>
<path d="M 383.2 1038 L 411.2 1038 L 409.2 1046 L 385.2 1046 Z" fill="#4a4a5e"/>
<path d="M 428 1038 L 456 1038 L 454 1046 L 430 1046 Z" fill="#4a4a5e"/>
<path d="M 421 1051 L 466 1051 Q 470 1051 472 1049 L 472 1052 Q 469 1057 464 1057 L 421 1057 Z" fill="#f4f4f8" stroke="#111" stroke-width="1.8"/>
<path d="M 322 1049 L 322 1075 Q 322 1098 345 1098 Q 368 1098 368 1075 L 368 1049 Z" fill="#e2e2ea" stroke="#111" stroke-width="2.8"/>
<path d="M 324 1050 L 366 1050 L 366 1066 L 324 1066 Z" fill="#4a4a4e"/>
<circle cx="345" cy="1070.5" r="20" fill="#e2e2ea" stroke="#111" stroke-width="2.8"/>
<path d="M 325 1072 A 20 20 0 0 1 365 1072 L 365 1050 L 325 1050 Z" fill="#4a4a4e"/>
<circle cx="345" cy="1070.5" r="15" fill="url(#scr)" stroke="#111" stroke-width="1.5"/>
<circle cx="345" cy="1070.5" r="8.8" fill="#111"/>
<polygon points="345.0,1065.3 346.7,1067.6 349.5,1067.9 348.4,1070.5 349.5,1073.1 346.7,1073.4 345.0,1075.7 343.3,1073.4 340.5,1073.1 341.6,1070.5 340.5,1067.9 343.3,1067.6" fill="#f4f4f8"/>
<rect x="373.6" y="1048" width="47.7" height="29.7" rx="7" fill="#6a6a6c" stroke="#111" stroke-width="2.8"/>
<rect x="378" y="1056.5" width="39" height="7" fill="#787878" stroke="#111" stroke-width="2.5"/>
<circle cx="334.6" cy="1124.5" r="10.6" fill="#ffffff" stroke="#111" stroke-width="3.6"/>
<path d="M 326 1124 A 8.6 8.6 0 0 0 343.2 1124 A 8 7 0 0 1 326 1124 Z" fill="#111"/>
<circle cx="334.6" cy="1122" r="4.6" fill="#d8def4" stroke="#111" stroke-width="1"/>
</g>
<path d="M 13 1043.5 L 13 41.5 L 144 4.5 L 650 4.5 L 782 41.5 L 782 1048.7" fill="none" stroke="#111" stroke-width="2.6" stroke-linejoin="round"/>
<rect x="6.6" y="341" width="10.4" height="56.4" fill="url(#tab)" stroke="#111" stroke-width="2.2"/>
<rect x="777.8" y="341.6" width="10.4" height="55.3" fill="url(#tab)" stroke="#111" stroke-width="2.2"/>
<line x1="91" y1="855.5" x2="790" y2="855.5" stroke="#ffffff" stroke-width="16"/>
<circle cx="91.3" cy="855.3" r="14.3" fill="#ffffff"/>
<line x1="91" y1="855.5" x2="855.6" y2="855.5" stroke="#1a1a1a" stroke-width="8.5" stroke-linecap="round"/>
<circle cx="91.3" cy="855.3" r="9.3" fill="#1a1a1a"/>
<text x="868.7" y="880" font-family="Liberation Sans" font-weight="bold" font-size="69" letter-spacing="-1.1" fill="#1a1a1a">KA</text>
<path d="M 998.4 879.8 L 1007.7 879.8 L 1007.7 832 L 1000.4 832 C 998.5 837, 993 842, 986.9 844.1 L 986.9 851.6 C 991 850.2, 995.5 848, 998.4 845.3 Z" fill="#1a1a1a"/>
<text x="1018.3" y="880" font-family="Liberation Sans" font-weight="bold" font-size="69" fill="#1a1a1a">9</text>
</svg>
</body></html>
